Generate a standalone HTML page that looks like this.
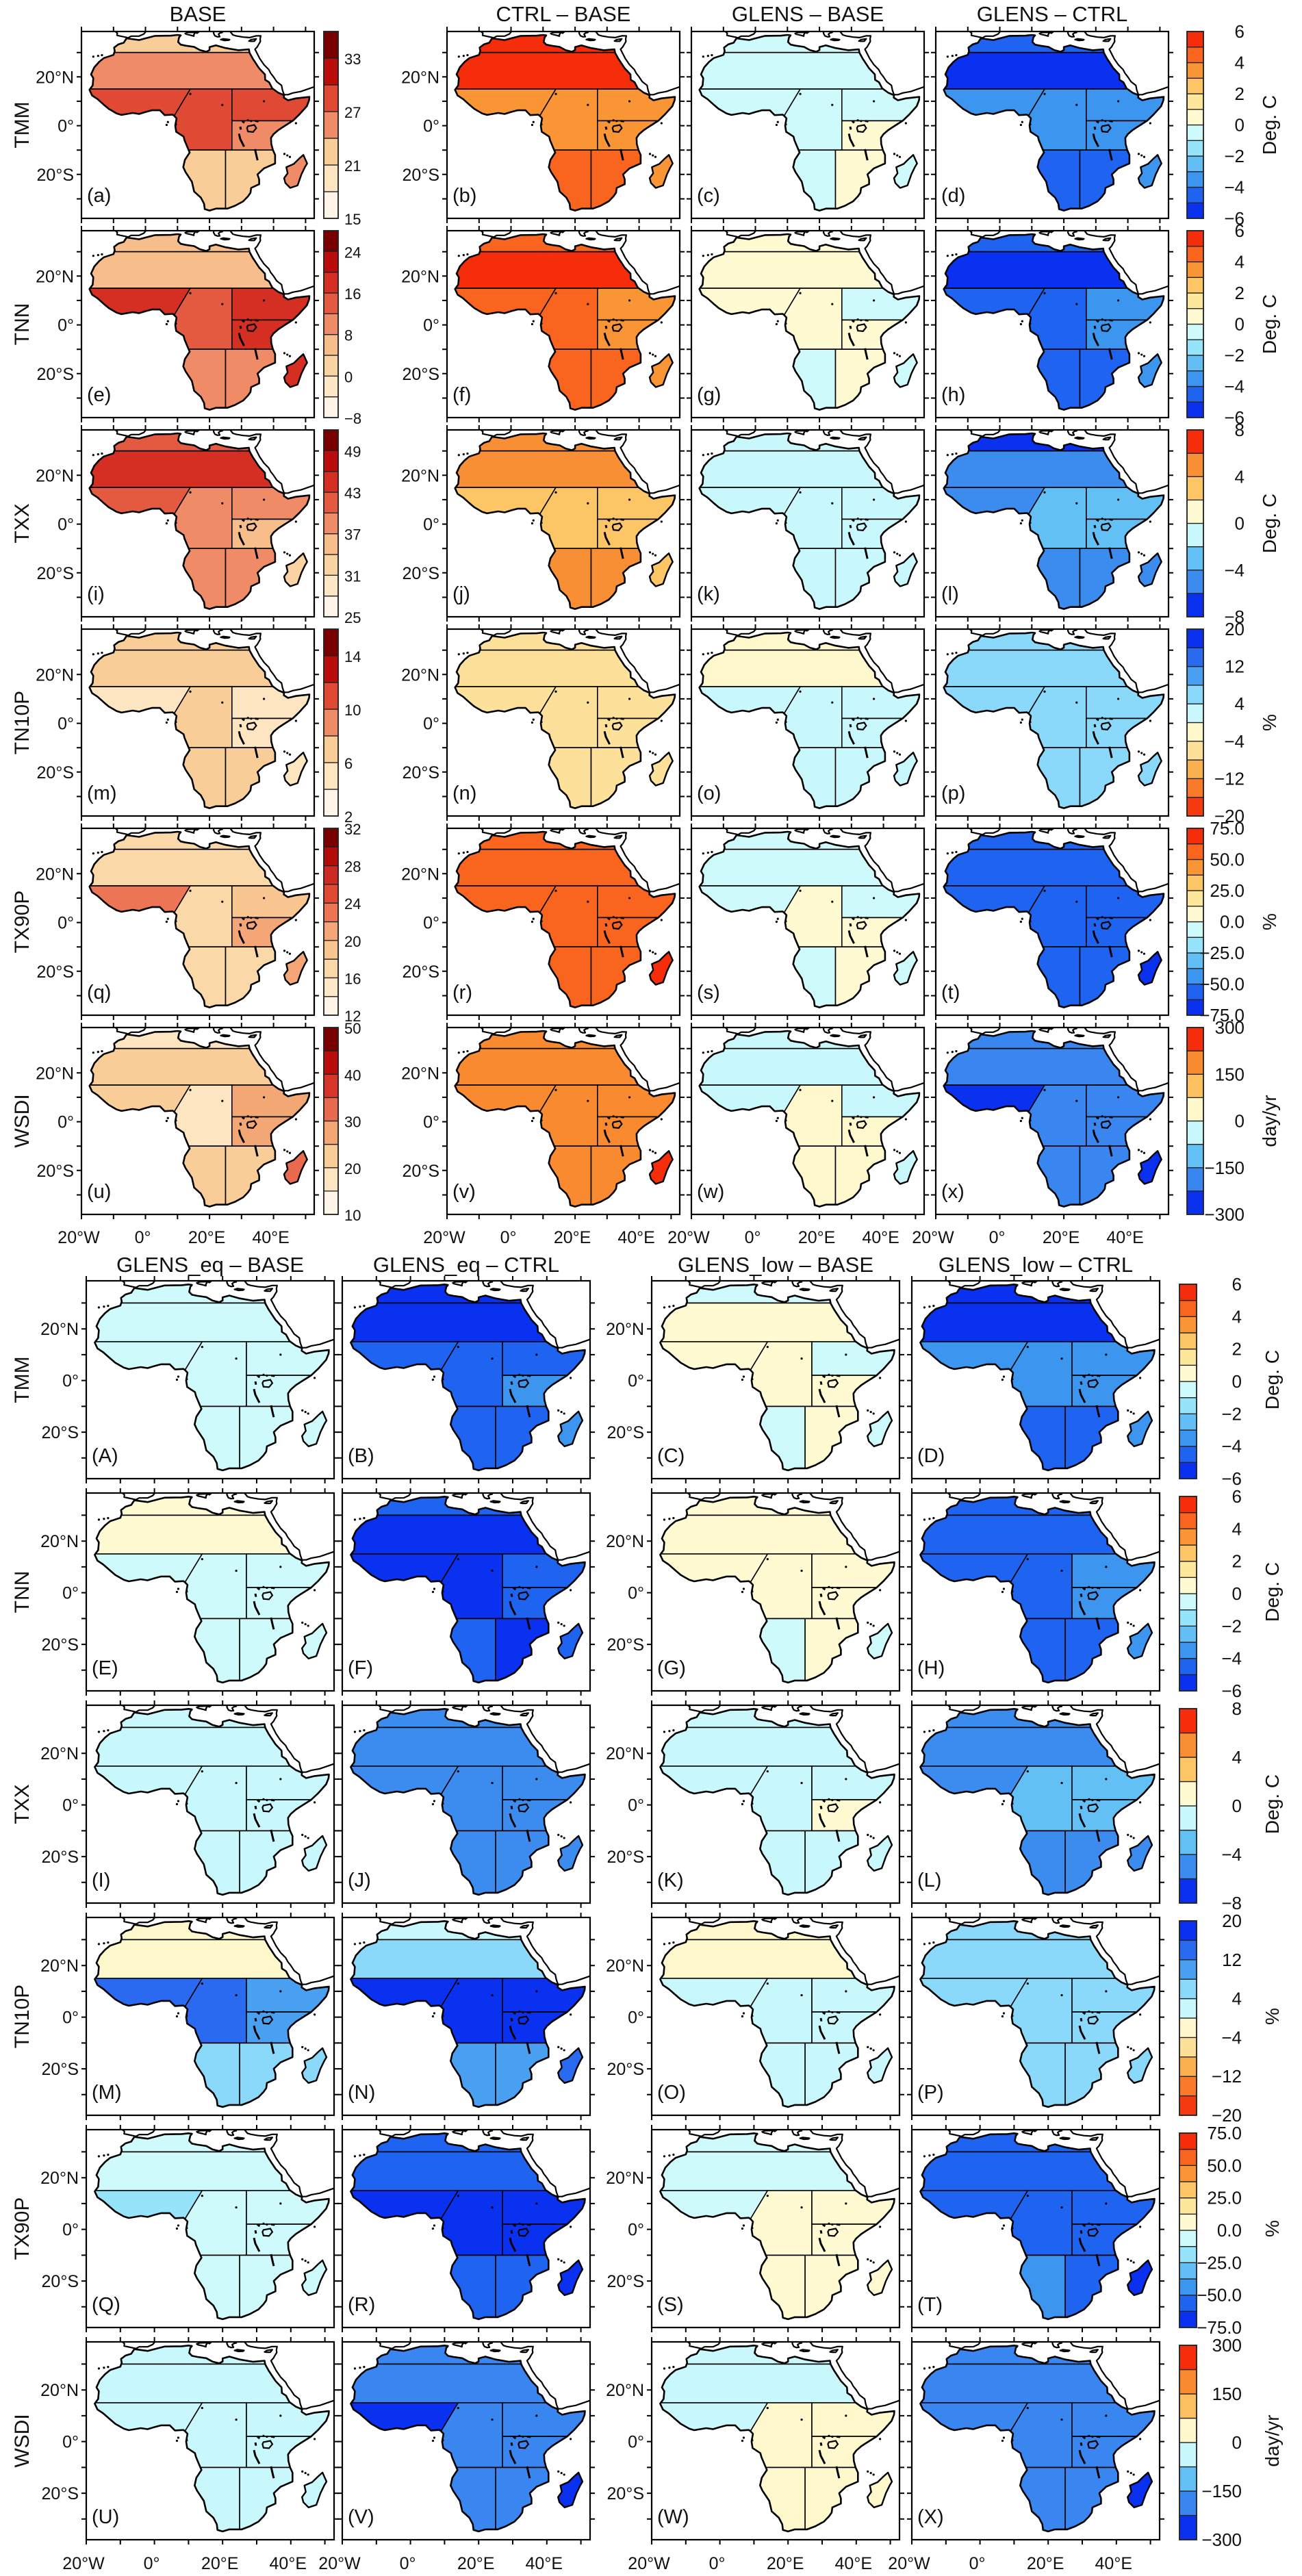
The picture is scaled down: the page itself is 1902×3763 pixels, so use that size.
<!DOCTYPE html>
<html><head><meta charset="utf-8"><title>Africa climate extremes panels</title>
<style>
html,body{margin:0;padding:0;background:#fff;}
svg{display:block;font-family:"Liberation Sans",sans-serif;}
</style></head>
<body>
<svg id="fig" width="1902" height="3763" viewBox="0 0 1902 3763" xmlns="http://www.w3.org/2000/svg"></svg>
<script>
// ---------------- DATA ----------------
// region order: MED, NAF, WAF, CAF, EAF-north, EAF-south, SAF-west, SAF-east, MAD
const regionNames=['mediterranean','north-africa','west-africa','central-africa','east-africa-north','east-africa-south','southern-africa-west','southern-africa-east','madagascar'];
const rowNames=['TMM','TNN','TXX','TN10P','TX90P','WSDI'];
const topTitles=['BASE','CTRL \u2013 BASE','GLENS \u2013 BASE','GLENS \u2013 CTRL'];
const botTitles=['GLENS_eq \u2013 BASE','GLENS_eq \u2013 CTRL','GLENS_low \u2013 BASE','GLENS_low \u2013 CTRL'];
const topLetters='abcdefghijklmnopqrstuvwx';
const botLetters='ABCDEFGHIJKLMNOPQRSTUVWX';
const lonTicks=[-20,-10,0,10,20,30,40,50];
const latTicks=[-30,-20,-10,0,10,20,30];
const lonLabels=['20°W','0°','20°E','40°E'];
const lonLabelVals=[-20,0,20,40];
const latLabels=['20°N','0°','20°S'];
const latLabelVals=[20,0,-20];

// top block values [BASE, CTRL-BASE, GLENS-BASE, GLENS-CTRL]
const tmmTop=[[22.5,25.5,28.5,28.5,28.5,25.5,22.5,22.5,25.5],[5.5,5.5,3.5,3.5,3.5,3.5,4.5,4.5,3.5],[-0.5,-0.5,-0.5,-0.5,-0.5,0.5,-0.5,0.5,-0.5],[-4.5,-5.5,-3.5,-3.5,-3.5,-3.5,-4.5,-4.5,-3.5]];
const tnnTop=[[6,6,18,14,18,18,10,10,18],[4.5,5.5,4.5,4.5,3.5,3.5,4.5,4.5,3.5],[0.5,0.5,0.5,0.5,-0.5,0.5,-0.5,0.5,-0.5],[-4.5,-5.5,-4.5,-4.5,-3.5,-3.5,-4.5,-4.5,-3.5]];
const txxTop=[[41.5,44.5,41.5,38.5,38.5,35.5,38.5,38.5,32.5],[5,5,3,3,3,3,5,5,3],[-1,-1,-1,-1,-1,-1,-1,-1,-1],[-7,-5,-5,-3,-3,-3,-5,-5,-5]];
const tn10pTop=[[7,7,5,7,5,5,7,7,5],[-6,-6,-6,-6,-6,-6,-6,-6,-6],[-2,-2,2,2,2,2,2,2,2],[6,6,6,6,6,6,6,6,6]];
const tx90pTop=[[17,17,23,17,19,21,17,17,21],[56.25,56.25,56.25,56.25,56.25,56.25,56.25,56.25,68.75],[-6.25,-6.25,-6.25,6.25,-6.25,6.25,-6.25,6.25,-6.25],[-56.25,-56.25,-56.25,-56.25,-56.25,-56.25,-56.25,-56.25,-68.75]];
const wsdiTop=[[17.5,22.5,22.5,17.5,27.5,27.5,22.5,22.5,32.5],[187.5,187.5,187.5,187.5,187.5,187.5,187.5,187.5,262.5],[-37.5,-37.5,-37.5,37.5,-37.5,37.5,37.5,37.5,-37.5],[-187.5,-187.5,-262.5,-187.5,-187.5,-187.5,-187.5,-187.5,-262.5]];
// bottom block values [GLENS_eq-BASE, GLENS_eq-CTRL, GLENS_low-BASE, GLENS_low-CTRL]
const tmmBot=[[-0.5,-0.5,-0.5,-0.5,-0.5,-0.5,-0.5,-0.5,-0.5],[-5.5,-5.5,-4.5,-4.5,-4.5,-3.5,-4.5,-4.5,-3.5],[-0.5,0.5,0.5,0.5,-0.5,0.5,-0.5,0.5,-0.5],[-5.5,-5.5,-3.5,-3.5,-3.5,-3.5,-4.5,-4.5,-3.5]];
const tnnBot=[[0.5,0.5,-0.5,-0.5,-0.5,-0.5,-0.5,-0.5,-0.5],[-4.5,-5.5,-5.5,-5.5,-4.5,-4.5,-4.5,-5.5,-4.5],[0.5,0.5,0.5,0.5,0.5,0.5,-0.5,0.5,-0.5],[-4.5,-4.5,-4.5,-4.5,-3.5,-3.5,-4.5,-4.5,-3.5]];
const txxBot=[[-1,-1,-1,-1,-1,-1,-1,-1,-1],[-5,-5,-5,-5,-5,-5,-5,-5,-5],[-1,-1,-1,-1,-1,1,-1,-1,-1],[-5,-5,-5,-3,-3,-3,-5,-5,-5]];
const tn10pBot=[[-2,-2,14,14,10,10,6,6,6],[2,6,18,18,18,18,10,10,14],[-2,-2,2,2,2,2,2,2,2],[6,6,6,6,6,6,6,6,6]];
const tx90pBot=[[-6.25,-6.25,-18.75,-6.25,-6.25,-6.25,-6.25,-6.25,-6.25],[-56.25,-56.25,-68.75,-68.75,-68.75,-68.75,-56.25,-56.25,-68.75],[-6.25,-6.25,-6.25,6.25,6.25,6.25,6.25,6.25,6.25],[-56.25,-56.25,-56.25,-56.25,-56.25,-56.25,-43.75,-56.25,-68.75]];
const wsdiBot=[[-37.5,-37.5,-37.5,-37.5,-37.5,-37.5,-37.5,-37.5,-37.5],[-187.5,-187.5,-262.5,-187.5,-187.5,-187.5,-187.5,-187.5,-262.5],[-37.5,-37.5,-37.5,37.5,37.5,37.5,37.5,37.5,37.5],[-187.5,-187.5,-187.5,-187.5,-187.5,-187.5,-187.5,-187.5,-262.5]];

// colour-scale tick labels
const baseTickLabels=[[15,21,27,33],[-8,0,8,16,24],[25,31,37,43,49],[2,6,10,14],[12,16,20,24,28,32],[10,20,30,40,50]];
const diffTickLabels=[[-6,-4,-2,0,2,4,6],[-6,-4,-2,0,2,4,6],[-8,-4,0,4,8],[-20,-12,-4,4,12,20],[-75,-50,-25,0,25,50,75],[-300,-150,0,150,300]];
const unitLabels=['Deg. C','Deg. C','Deg. C','%','%','day/yr'];

// ---------------- STYLE / SCALES ----------------
const seq7=['#fef5e8','#fde5c2','#f9cd98','#ef8b66','#e04a35','#bb0c0c','#7a0000'];
const seq8=['#fef5e8','#fde5c2','#f9cd98','#f3a775','#e96a4f','#d8352a','#bb0c0c','#7a0000'];
const seq9=['#fef5e8','#fde6c6','#fad3a3','#f7bd8a','#ef8b66','#e35a40','#d42f22','#bb0c0c','#7a0000'];
const seq10=['#fef5e8','#fde8c8','#fbd8a8','#f9c590','#f5a676','#ec7556','#e04a35','#cc2a22','#b30a0a','#7a0000'];
const div12=['#0a30f0','#1e64f0','#3c96f0','#62bef5','#96e4fa','#cefafc','#fffad2','#fde79a','#fcc566','#fa9535','#f9651e','#f52d0a'];
const div8=['#0a30f0','#3c8cf0','#62c0f5','#c8f8fc','#fffad2','#fcc566','#f98f35','#f52d0a'];
const div10=['#f53a10','#f97a28','#fbb050','#fde09a','#fff8cc','#c8f8fc','#8ad8fa','#4aa0f0','#2a6af0','#0a30f0'];
const wsd8=['#0a30f0','#3a86f0','#62c0f5','#c8f8fc','#fff8cc','#fcc060','#f98a30','#f52d0a'];
const baseScales=[{lo:15,step:3,c:seq7},{lo:-8,step:4,c:seq9},{lo:25,step:3,c:seq9},{lo:2,step:2,c:seq7},{lo:12,step:2,c:seq10},{lo:10,step:5,c:seq8}];
const diffScales=[{lo:-6,step:1,c:div12},{lo:-6,step:1,c:div12},{lo:-8,step:2,c:div8},{lo:-20,step:4,c:div10},{lo:-75,step:12.5,c:div12},{lo:-300,step:75,c:wsd8}];
const topData=[tmmTop,tnnTop,txxTop,tn10pTop,tx90pTop,wsdiTop];
const botData=[tmmBot,tnnBot,txxBot,tn10pBot,tx90pBot,wsdiBot];

const LON0=-20,LON1=52.7,LAT0=-38,LAT1=38.6;
const NS='http://www.w3.org/2000/svg';
const svg=document.getElementById('fig');
const FONT='"Liberation Sans",sans-serif';

// geometry (lon,lat)
const AFRICA=[[-5.9,35.8],[-2,35.1],[0,35.8],[3,36.8],[8,36.9],[10,37.2],[11,37],[10.5,36.2],[10.2,34.3],[11,33.2],[12.5,32.8],[15.2,32.3],[17,31],[19,30.3],[20,31],[20,32.2],[22,32.9],[25,31.8],[29,30.9],[32.3,31.3],[32.5,29.9],[33.5,27.5],[35.5,23.5],[37.3,21],[37.4,18.8],[38.6,17.8],[39.6,15.3],[41.5,13.5],[43.3,12.5],[43.2,11.5],[44.5,10.4],[47,11.2],[51.2,11.8],[51.1,10.4],[50.4,8],[48,4.5],[46,2],[43,-0.5],[41.5,-1.8],[40,-3.5],[39.2,-5],[39.3,-7.5],[39.8,-10],[40.5,-12],[40.5,-15.5],[37,-17.5],[35,-20],[35.5,-22],[35.5,-24],[33,-25.5],[32.8,-27.5],[32,-29],[30.5,-31],[28,-32.8],[25.6,-34],[22,-34],[20,-34.8],[18.5,-34.2],[18.3,-32],[17.3,-29.5],[15.2,-27],[14.5,-23],[12.5,-19],[11.8,-17],[12.3,-14],[13.8,-11],[13,-8.5],[12.2,-6],[11.9,-4.5],[9.6,-2.5],[9.3,0],[9.7,3],[9,4],[8.5,4.5],[6,4.3],[4.5,6.3],[2,6.3],[0,5.6],[-2,4.8],[-4,5.2],[-7.5,4.4],[-9,5],[-11.5,6.9],[-13.2,8.8],[-15,10.9],[-16.7,12.4],[-17.5,14.7],[-16.5,16.5],[-16.3,19.5],[-17,21],[-16,23.9],[-14.5,26.1],[-13,27.7],[-10,29],[-9.6,30.5],[-9.8,32],[-8.5,33.3],[-6.8,34]];
const MADAG=[[49.3,-12],[50.5,-15.5],[49.8,-17],[48.7,-20],[47.5,-24.5],[45.2,-25.5],[43.7,-23.5],[43.3,-21.5],[44.4,-19.5],[44,-17],[46.3,-15.7],[48,-13.5]];
const OTHER_LAND=[
 [[34.2,31.3],[34.9,29.5],[35.7,27.5],[37,25],[38.5,23],[39.1,21.5],[40,20],[41,18],[42.5,16.5],[42.8,14.5],[43.3,12.7],[44.5,12.7],[46,13.4],[48.5,14],[52,15.6],[55,17],[60,18],[60,45],[26,45],[26.5,38.5],[27.3,37.2],[28.3,36.8],[30.5,36.3],[32.5,36.1],[34.5,36.8],[36,36.8],[35.8,35.5],[35.9,34.5],[35.2,33],[34.9,32.3]],
 [[-10,45],[-9.5,38.7],[-8.8,37.9],[-8.9,37],[-6,36.2],[-5.4,36],[-4.5,36.7],[-2,36.7],[-0.5,37.6],[0.2,38.7],[0,45]],
 [[12.4,37.8],[13.3,38.2],[15.6,38.3],[15.1,37.3],[15.1,36.7],[14.3,37],[12.7,37.5]],
 [[15.6,38.3],[16.1,37.9],[16.6,38.4],[17.1,39],[16.5,39.7],[18.5,40.1],[19,45],[15,45],[15.6,40],[15.7,38.9]],
 [[21.3,37.8],[21.7,36.8],[22.5,36.4],[23.2,36.5],[22.8,37.5],[23.3,38],[24,38.2],[24.5,45],[20,45],[20.5,39],[21.3,38.4]],
 [[23.5,35.3],[24.3,35.6],[26.3,35.3],[26,35],[24.7,34.9]],
 [[32.3,34.7],[33,35.3],[34.6,35.6],[34,34.6],[32.9,34.6]]
];
const REGION_POLYS=[
 [[-30,30],[60,30],[60,45],[-30,45]],
 [[-30,15],[60,15],[60,30],[-30,30]],
 [[-30,15],[14,15],[8.5,3],[-30,3]],
 [[14,15],[27,15],[27,-10],[0,-10],[0,3],[8.5,3]],
 [[27,2],[60,2],[60,15],[27,15]],
 [[27,-10],[60,-10],[60,2],[27,2]],
 [[-30,-10],[25,-10],[25,-45],[-30,-45]],
 [[25,-10],[60,-10],[60,-45],[25,-45]]
];
const LAKE_VIC=[[32,-0.2],[34,0.3],[34.6,-1],[33.6,-2.6],[32,-2.4],[31.7,-1]];
const LAKE_LINES=[[[29.2,-3.3],[29.6,-5.5],[30.8,-8.6]],[[34.2,-9.6],[34.6,-12],[35,-14.2]],[[30.2,1.9],[30.9,1.2]],[[29.6,-0.4],[29.8,-1.6]]];
const DOTS=[[14,13],[-16.3,28.3],[-14.8,28.6],[-13.6,28.9],[43.4,-11.6],[44.3,-12.2],[45.1,-12.8],[55.5,-4.6],[9.5,0.5],[7,1.5],[6.6,0.3],[47,1],[37,10],[24,8.5],[32,2.2],[33,1.9],[34.5,1.9],[35,1.8]];

let uid=0;
function mk(tag,parent){const e=document.createElementNS(NS,tag);(parent||svg).appendChild(e);return e;}
function ptsStr(poly,P){return poly.map(p=>P.x(p[0]).toFixed(1)+','+P.y(p[1]).toFixed(1)).join(' ');}
function colorFor(v,s){let i=Math.floor((v-s.lo)/s.step+1e-9);i=Math.max(0,Math.min(s.c.length-1,i));return s.c[i];}
function txt(parent,x,y,str,size,anchor,name){
  const t=mk('text',parent);
  t.setAttribute('x',x);t.setAttribute('y',y);t.setAttribute('font-size',size);
  t.setAttribute('text-anchor',anchor||'start');t.setAttribute('fill','#111');t.setAttribute('font-family',FONT);
  t.textContent=str;
  
  
  return t;
}

function panel(x0,y0,w,h,vals,scale,letter,opts){
  uid++;
  const P={x:lon=>x0+(lon-LON0)/(LON1-LON0)*w,y:lat=>y0+(LAT1-lat)/(LAT1-LAT0)*h};
  const g=mk('g');
  
  
  const defs=mk('defs',g);
  const cf=mk('clipPath',defs);cf.setAttribute('id','cf'+uid);
  const cfr=mk('rect',cf);cfr.setAttribute('x',x0);cfr.setAttribute('y',y0);cfr.setAttribute('width',w);cfr.setAttribute('height',h);
  const ca=mk('clipPath',defs);ca.setAttribute('id','ca'+uid);
  const cap=mk('polygon',ca);cap.setAttribute('points',ptsStr(AFRICA,P));
  const bg=mk('rect',g);bg.setAttribute('x',x0);bg.setAttribute('y',y0);bg.setAttribute('width',w);bg.setAttribute('height',h);bg.setAttribute('fill','#fff');
  
  
  const inner=mk('g',g);inner.setAttribute('clip-path','url(#cf'+uid+')');
  OTHER_LAND.forEach(poly=>{
    const p=mk('polygon',inner);p.setAttribute('points',ptsStr(poly,P));p.setAttribute('fill','#fff');p.setAttribute('stroke','#000');p.setAttribute('stroke-width','2.2');p.setAttribute('stroke-linejoin','round');
    
    
  });
  const ga=mk('g',inner);ga.setAttribute('clip-path','url(#ca'+uid+')');
  REGION_POLYS.forEach((poly,i)=>{
    const p=mk('polygon',ga);p.setAttribute('points',ptsStr(poly,P));
    p.setAttribute('fill',colorFor(vals[i],scale));p.setAttribute('stroke','#000');p.setAttribute('stroke-width','1.6');
    
    
  });
  const lv=mk('polygon',ga);lv.setAttribute('points',ptsStr(LAKE_VIC,P));lv.setAttribute('fill','none');lv.setAttribute('stroke','#000');lv.setAttribute('stroke-width','2.2');
  
  
  LAKE_LINES.forEach(l=>{const pl=mk('polyline',ga);pl.setAttribute('points',ptsStr(l,P));pl.setAttribute('fill','none');pl.setAttribute('stroke','#000');pl.setAttribute('stroke-width','3');
    
    });
  const co=mk('polygon',inner);co.setAttribute('points',ptsStr(AFRICA,P));co.setAttribute('fill','none');co.setAttribute('stroke','#000');co.setAttribute('stroke-width','2.6');co.setAttribute('stroke-linejoin','round');
  
  
  const md=mk('polygon',inner);md.setAttribute('points',ptsStr(MADAG,P));md.setAttribute('fill',colorFor(vals[8],scale));md.setAttribute('stroke','#000');md.setAttribute('stroke-width','2.4');md.setAttribute('stroke-linejoin','round');
  
  
  DOTS.forEach(d=>{const c=mk('circle',inner);c.setAttribute('cx',P.x(d[0]));c.setAttribute('cy',P.y(d[1]));c.setAttribute('r','1.6');c.setAttribute('fill','#000');
    
    });
  const fr=mk('rect',g);fr.setAttribute('x',x0);fr.setAttribute('y',y0);fr.setAttribute('width',w);fr.setAttribute('height',h);fr.setAttribute('fill','none');fr.setAttribute('stroke','#000');fr.setAttribute('stroke-width','2.2');
  
  
  let d='';
  lonTicks.forEach(t=>{const X=P.x(t).toFixed(1);d+=`M${X},${y0}v-7M${X},${y0+h}v7`;});
  latTicks.forEach(t=>{const Y=P.y(t).toFixed(1);d+=`M${x0},${Y}h-7M${x0+w},${Y}h7`;});
  const tk=mk('path',g);tk.setAttribute('d',d);tk.setAttribute('stroke','#000');tk.setAttribute('stroke-width','2');
  
  
  txt(g,x0+8,y0+h-24,'('+letter+')',29,'start','panel-label');
  if(opts.latLabels){latLabelVals.forEach((v,i)=>txt(g,x0-11,P.y(v)+9,latLabels[i],25,'end','latitude-label'));}
  if(opts.lonLabels){lonLabelVals.forEach((v,i)=>txt(g,P.x(v)-4,opts.lonY,lonLabels[i],25,'middle','longitude-label'));}
}

function colorbar(x,y,w,h,scale,labels,right,name,fmt,anchor,labelX){
  const g=mk('g');
  
  
  const n=scale.c.length;const hi=scale.lo+n*scale.step;
  const Y=v=>y+h-(v-scale.lo)/(hi-scale.lo)*h;
  for(let i=0;i<n;i++){
    const r=mk('rect',g);const yt=Y(scale.lo+(i+1)*scale.step),yb=Y(scale.lo+i*scale.step);
    r.setAttribute('x',x);r.setAttribute('y',yt);r.setAttribute('width',w);r.setAttribute('height',yb-yt);
    r.setAttribute('fill',scale.c[i]);r.setAttribute('stroke','#222');r.setAttribute('stroke-width','1.3');
    
    
  }
  const o=mk('rect',g);o.setAttribute('x',x);o.setAttribute('y',y);o.setAttribute('width',w);o.setAttribute('height',h);o.setAttribute('fill','none');o.setAttribute('stroke','#222');o.setAttribute('stroke-width','1.8');
  
  
  labels.forEach(v=>{txt(g,labelX,Y(v)+9,fmt(v),right?26:22,anchor,'colorbar-tick-label');});
}
const fmtInt=v=>(v<0?'\u2212'+Math.abs(v):String(v));
const fmtDec=v=>(v<0?'\u2212'+Math.abs(v).toFixed(1):v.toFixed(1));

// ------------- TITLES -------------
const topCols=[119,653,1010,1367],topW=340,topH=273;
const botCols=[126,500,952,1332],botW=362,botH=289;
topTitles.forEach((t,i)=>txt(svg,topCols[i]+topW/2,31,t,31,'middle','column-title'));
botTitles.forEach((t,i)=>txt(svg,botCols[i]+botW/2,1858,t,31,'middle','column-title'));

// ------------- TOP BLOCK -------------
for(let r=0;r<6;r++){
  const y0=46+r*291;
  const rl=txt(svg,0,0,rowNames[r],30,'middle','row-label');
  rl.setAttribute('transform',`translate(42,${y0+topH/2}) rotate(-90)`);
  for(let c=0;c<4;c++){
    const sc=c===0?baseScales[r]:diffScales[r];
    panel(topCols[c],y0,topW,topH,topData[r][c],sc,topLetters[r*4+c],{latLabels:c<2,lonLabels:r===5,lonY:1816});
  }
  colorbar(473,y0,21,topH,baseScales[r],baseTickLabels[r],false,'base-colorbar',fmtInt,'start',503);
  colorbar(1734,y0,24,topH,diffScales[r],diffTickLabels[r],true,'difference-colorbar',r===4?fmtDec:fmtInt,'end',1818);
  const ul=txt(svg,0,0,unitLabels[r],28,'middle','colorbar-unit-label');
  ul.setAttribute('transform',`translate(1864,${y0+topH/2}) rotate(-90)`);
}
// ------------- BOTTOM BLOCK -------------
for(let r=0;r<6;r++){
  const y0=1871+r*310;
  const rl=txt(svg,0,0,rowNames[r],30,'middle','row-label');
  rl.setAttribute('transform',`translate(42,${y0+botH/2}) rotate(-90)`);
  for(let c=0;c<4;c++){
    panel(botCols[c],y0,botW,botH,botData[r][c],diffScales[r],botLetters[r*4+c],{latLabels:(c===0||c===2),lonLabels:r===5,lonY:3753});
  }
  colorbar(1723,y0+5,25,botH-5,diffScales[r],diffTickLabels[r],true,'difference-colorbar',r===4?fmtDec:fmtInt,'end',1814);
  const ul=txt(svg,0,0,unitLabels[r],28,'middle','colorbar-unit-label');
  ul.setAttribute('transform',`translate(1868,${y0+botH/2}) rotate(-90)`);
}
</script>
</body></html>
